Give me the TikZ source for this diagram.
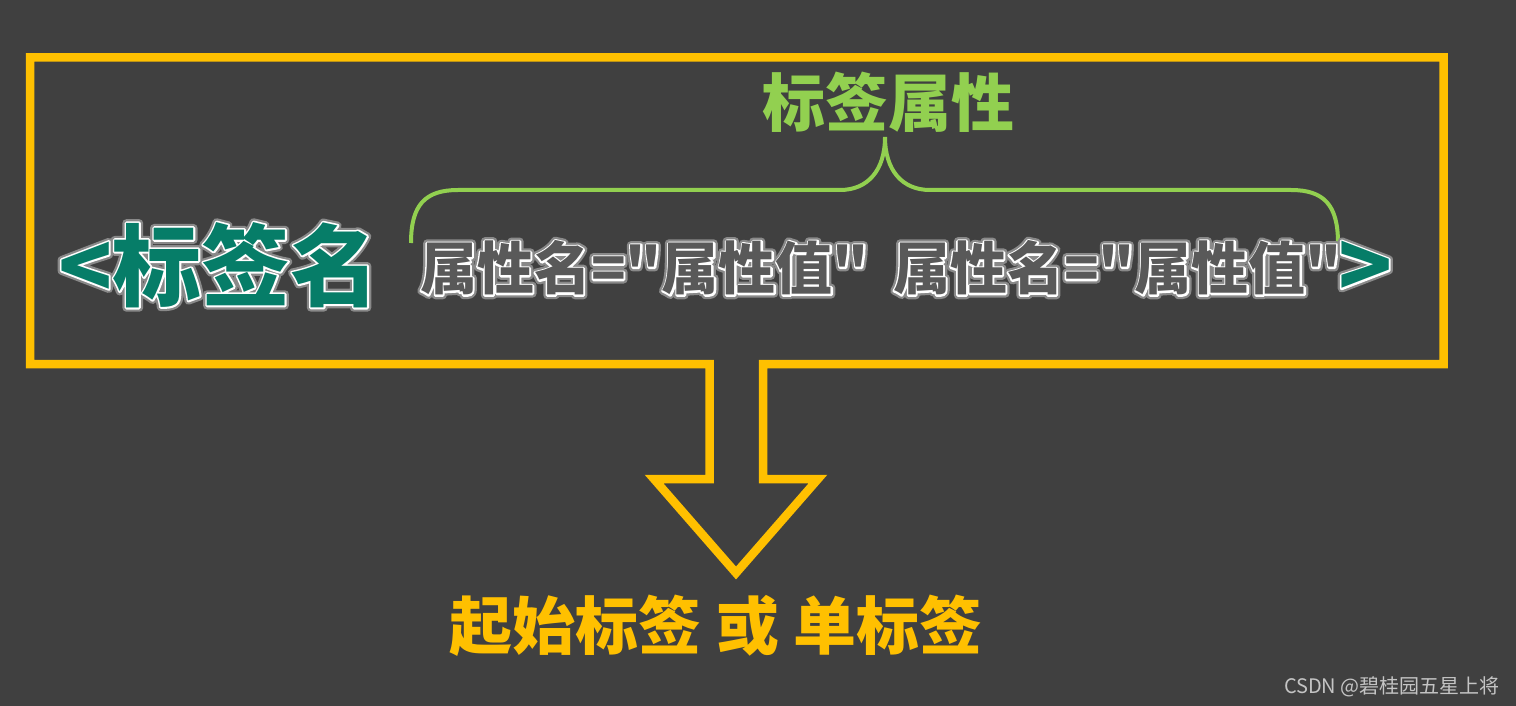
\documentclass[tikz,border=0pt]{standalone}
\usepackage{fontspec}
\newfontfamily\cjk{Noto Sans CJK SC}
% emboldened copies for the halo, wide and narrow, for the big and the small texts
\newfontfamily\glowwide{Noto Sans CJK SC}[BoldFeatures={FakeBold=14}]
\newfontfamily\glownarrow{Noto Sans CJK SC}[BoldFeatures={FakeBold=6}]
\newfontfamily\glowwideT{Noto Sans CJK SC}[BoldFeatures={FakeBold=9}]
\newfontfamily\glownarrowT{Noto Sans CJK SC}[BoldFeatures={FakeBold=4}]

% halo behind a text: #1 colour of the text, #2 the text, #3 wide font, #4 narrow font
\newcommand{\halotext}[4]{%
	\special{pdf:literal direct 1 j 1 J}%
	\rlap{#3\bfseries\color{white!38!bgdark}#2}%
	\rlap{#4\bfseries\color{white}#2}%
	{\color{#1}#2}}

\begin{document}
\begin{tikzpicture}[x=1pt,y=-1pt]
	\definecolor{bgdark}{HTML}{404040}
	\definecolor{frameyellow}{HTML}{FFC000}
	\definecolor{bracegreen}{HTML}{92D050}
	\definecolor{tagteal}{HTML}{067D68}
	\definecolor{attrgray}{HTML}{595959}
	\definecolor{markgray}{HTML}{C4C4C4}
	\tikzset{
		tagtext/.style = {inner sep=0, anchor=west, font=\cjk\bfseries\fontsize{89}{89}\selectfont},
		attrtext/.style = {inner sep=0, anchor=west, font=\cjk\bfseries\fontsize{57}{57}\selectfont},
		titletext/.style = {inner sep=0, font=\cjk\bfseries\fontsize{63}{63}\selectfont},
	}
	\fill[bgdark] (0,0) rectangle (1516,706);
	% frame with the arrow below it
	\draw[frameyellow, line width=8.5pt, miter limit=20]
		(30,57.5) -- (1443.5,57.5) -- (1443.5,364) -- (763,364) -- (763,479)
		-- (818,479) -- (736,573) -- (654,479) -- (709.5,479) -- (709.5,364)
		-- (30,364) -- cycle;
	% the brace over the attributes
	\coordinate (braceL) at (411,243);
	\coordinate (braceR) at (1338,243);
	\coordinate (braceTip) at (885,137);
	\draw[bracegreen, line width=4pt]
		(braceL) .. controls (411,205) and (425,190) .. (458,190) -- (840,190)
		.. controls (868,190) and (885,170) .. (braceTip)
		.. controls (885,170) and (902,190) .. (930,190) -- (1291,190)
		.. controls (1324,190) and (1338,205) .. (braceR);
	\node[titletext, text=bracegreen] (attrtitle) at (888,102) {标签属性};
	\node[tagtext] (tagopen) at (58,265) {\halotext{tagteal}{<标签名}{\glowwideT}{\glownarrowT}};
	\node[attrtext] (attrone) at (420,268) {\halotext{attrgray}{属性名="属性值"}{\glowwide}{\glownarrow}};
	\node[attrtext] (attrtwo) at (893,268) {\halotext{attrgray}{属性名="属性值"}{\glowwide}{\glownarrow}};
	\node[tagtext] (tagclose) at (1338,270) {\halotext{tagteal}{>}{\glowwideT}{\glownarrowT}};
	\node[titletext, text=frameyellow] (result) at (716,626) {起始标签 或 单标签};
	\node[inner sep=0, anchor=east, text=markgray, font=\cjk\fontsize{20}{20}\selectfont] (mark) at (1500,687) {CSDN @碧桂园五星上将};
\end{tikzpicture}
\end{document}
